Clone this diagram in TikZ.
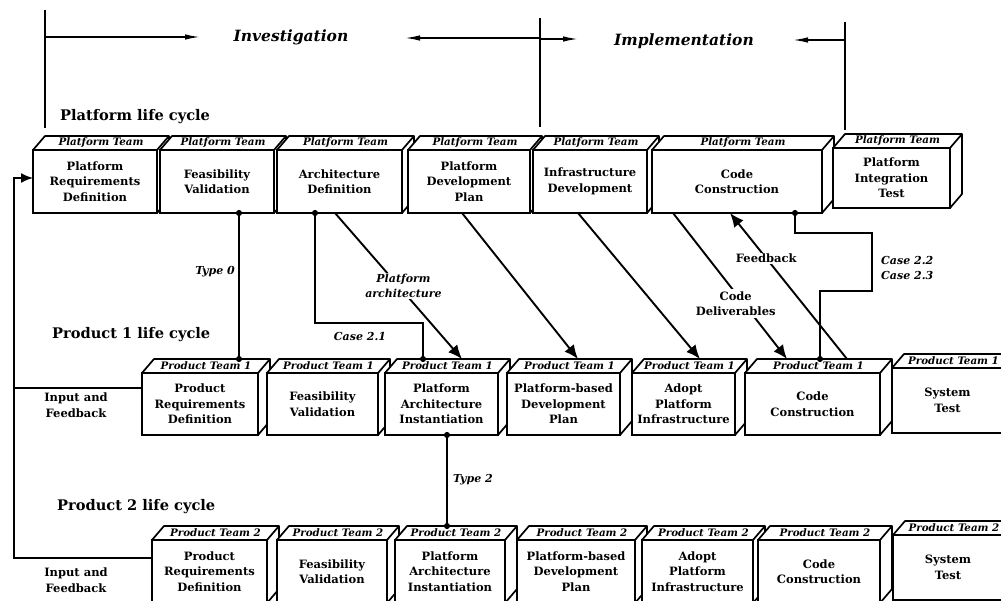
\documentclass[tikz,border=0pt]{standalone}
\usepackage{fontspec}
\setmainfont{DejaVu Serif}
\usetikzlibrary{calc,arrows.meta}

% one life-cycle step: name, left, top, right, bottom, team label, step text
\newcommand\lcbox[7]{%
  \pgfmathsetmacro\bw{#4-#2}\pgfmathsetmacro\bh{#5-#3}%
  \pgfmathsetmacro\bx{(#2+#4)/2}\pgfmathsetmacro\by{(#3+#5)/2}%
  \node[front, minimum width=\bw pt, minimum height=\bh pt] (#1) at (\bx,\by) {#7};
  \draw[face] (#1.north west) -- ++(12,-14) -- ++(\bw,0) -- ++(0,\bh)
    -- (#1.south east) -- (#1.north east) -- cycle;
  \draw[face] (#1.north east) -- ++(12,-14);
  \node[lidtxt] (#1-lid) at ($(#1.north)+(6,-7)$) {#6};
  \coordinate (#1t) at ($(#1.north)+(12,-14)$);
}

\begin{document}
\begin{tikzpicture}[x=1pt,y=-1pt,
  every node/.style={font=\bfseries\fontsize{11.5}{15.5}\selectfont},
  front/.style={draw, fill=white, line width=1.7pt, inner sep=0pt, outer sep=0pt, align=center},
  face/.style={draw, fill=white, line width=1.7pt, line join=round},
  lidtxt/.style={font=\bfseries\itshape\fontsize{10.3}{10}\selectfont, inner sep=0pt},
  head/.style={font=\bfseries\fontsize{14.6}{16}\selectfont, anchor=west, inner sep=0pt},
  phase/.style={font=\bfseries\itshape\fontsize{15.5}{17}\selectfont, inner sep=0pt},
  tag/.style={font=\bfseries\itshape\fontsize{11}{15}\selectfont, inner sep=1pt},
  cut/.style={fill=white, inner sep=2pt, align=center},
  link/.style={line width=1.6pt, {Circle[length=6pt]}-{Circle[length=6pt]},
    shorten <=-3pt, shorten >=-3pt},
  flow/.style={line width=1.9pt, -{Latex[length=14pt,width=12pt]}},
  hline/.style={line width=1.5pt},
  harrow/.style={line width=1.5pt, -{Latex[length=15pt,width=5.5pt]}},
  loop/.style={line width=1.7pt, -{Latex[length=12pt,width=10pt]}}
]
\useasboundingbox (0,0) rectangle (1001,601);
\clip (0,0) rectangle (1001,601);
\fill[white] (0,0) rectangle (1001,601);

% phase markers
\coordinate (v1a) at (45,10);  \coordinate (v1b) at (45,128);
\coordinate (v2a) at (540,18); \coordinate (v2b) at (540,127);
\coordinate (v3a) at (845,22); \coordinate (v3b) at (845,130);
\draw[hline] (v1a) -- (v1b);
\draw[hline] (v2a) -- (v2b);
\draw[hline] (v3a) -- (v3b);
\node[phase] (inv) at (291,37) {Investigation};
\node[phase] (impl) at (684,41) {Implementation};
\coordinate (inva) at (200,37); \coordinate (invb) at (405,38);
\coordinate (impa) at (578,39); \coordinate (impb) at (793,40);
\draw[harrow] (v1a |- inva) -- (inva);
\draw[harrow] (v2a |- invb) -- (invb);
\draw[harrow] (v2a |- impa) -- (impa);
\draw[harrow] (v3a |- impb) -- (impb);

% row titles
\node[head] (h1) at (60,117) {Platform life cycle};
\node[head] (h2) at (52,335) {Product 1 life cycle};
\node[head] (h3) at (57,507) {Product 2 life cycle};

% platform life cycle
\lcbox{p1}{33}{150}{157}{213}{Platform Team}{Platform\\Requirements\\Definition}
\lcbox{p2}{160}{150}{274}{213}{Platform Team}{Feasibility\\Validation}
\lcbox{p3}{277}{150}{402}{213}{Platform Team}{Architecture\\Definition}
\lcbox{p4}{408}{150}{530}{213}{Platform Team}{Platform\\Development\\Plan}
\lcbox{p5}{533}{150}{647}{213}{Platform Team}{Infrastructure\\Development}
\lcbox{p6}{652}{150}{822}{213}{Platform Team}{Code\\Construction}
\lcbox{p7}{833}{148}{950}{208}{Platform Team}{Platform\\Integration\\Test}

% product 1 life cycle
\lcbox{q1}{142}{373}{258}{435}{Product Team 1}{Product\\Requirements\\Definition}
\lcbox{q2}{267}{373}{378}{435}{Product Team 1}{Feasibility\\Validation}
\lcbox{q3}{385}{373}{498}{435}{Product Team 1}{Platform\\Architecture\\Instantiation}
\lcbox{q4}{507}{373}{620}{435}{Product Team 1}{Platform-based\\Development\\Plan}
\lcbox{q5}{632}{373}{735}{435}{Product Team 1}{Adopt\\Platform\\Infrastructure}
\lcbox{q6}{745}{373}{880}{435}{Product Team 1}{Code\\Construction}
\lcbox{q7}{892}{368}{1003}{433}{Product Team 1}{System\\Test}

% product 2 life cycle
\lcbox{r1}{152}{540}{267}{603}{Product Team 2}{Product\\Requirements\\Definition}
\lcbox{r2}{277}{540}{387}{603}{Product Team 2}{Feasibility\\Validation}
\lcbox{r3}{395}{540}{505}{603}{Product Team 2}{Platform\\Architecture\\Instantiation}
\lcbox{r4}{517}{540}{635}{603}{Product Team 2}{Platform-based\\Development\\Plan}
\lcbox{r5}{642}{540}{753}{603}{Product Team 2}{Adopt\\Platform\\Infrastructure}
\lcbox{r6}{758}{540}{880}{603}{Product Team 2}{Code\\Construction}
\lcbox{r7}{893}{535}{1003}{600}{Product Team 2}{System\\Test}

% input and feedback loop
\coordinate (loopx) at (14,300);
\draw[loop] ([yshift=13.5pt]r1.west) -- ([yshift=13.5pt]r1.west -| loopx)
  |- ([yshift=3.5pt]p1.west);
\draw[line width=1.7pt] ([yshift=16pt]q1.west) -- ([yshift=16pt]q1.west -| loopx);
\node[align=center] (in1) at (76,405) {Input and\\Feedback};
\node[align=center] (in2) at (76,580) {Input and\\Feedback};

% reuse relations
\draw[link] ([xshift=22pt]p2.south) -- ([xshift=22pt]p2.south |- q1t);
\node[tag, anchor=east] (t0) at (236,272) {Type 0};

\draw[link] ([xshift=-24.5pt]p3.south) -- ++(0,110) -| ([xshift=-30.5pt]q3t);
\node[tag] (c21) at (360,336) {Case 2.1};

\draw[link] ([xshift=58pt]p6.south) -- ++(0,20) -- ++(77,0) -- ++(0,58)
  -| ([xshift=-4.5pt]q6t);
\node[tag, anchor=west, align=left] (c22) at (880,268) {Case 2.2\\Case 2.3};

\draw[link] ([xshift=5.5pt]q3.south) -- ([xshift=5.5pt]q3.south |- r3t);
\node[tag, anchor=west] (t2) at (452,480) {Type 2};

% deliverables flowing down to product 1
\draw[flow] ([xshift=-4.5pt]p3.south) -- node[pos=0.5, cut, tag, fill=white, xshift=5pt]
  {Platform\\architecture} ([xshift=8.5pt]q3t);
\draw[flow] ([xshift=-7pt]p4.south) -- ([xshift=2.5pt]q4t);
\draw[flow] ([xshift=-12pt]p5.south) -- ([xshift=4.5pt]q5t);
\draw[flow] ([xshift=-64pt]p6.south) -- node[pos=0.62, cut, xshift=-8pt]
  {Code\\Deliverables} ([xshift=-37.5pt]q6t);
\draw[flow] ([xshift=22.5pt]q6t) -- node[pos=0.69, cut, inner sep=1pt]
  {Feedback} ([xshift=-7pt]p6.south);
\end{tikzpicture}
\end{document}
